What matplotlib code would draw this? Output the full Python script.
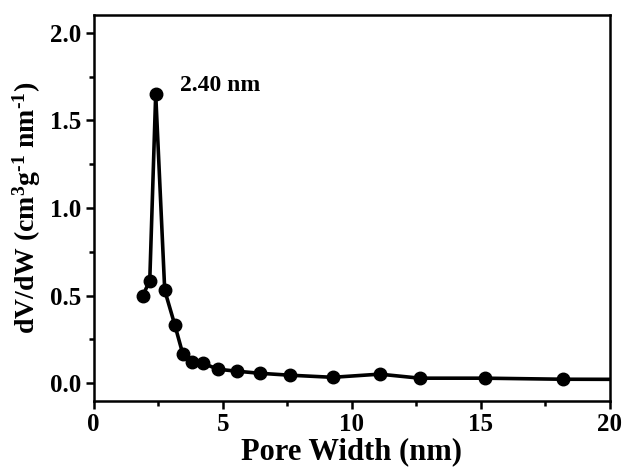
import matplotlib
matplotlib.use('Agg')
import matplotlib.pyplot as plt

# pore size distribution
pore_width = [1.90, 2.17, 2.40, 2.75, 3.14, 3.45, 3.80, 4.22, 4.81, 5.54,
              6.43, 7.60, 9.26, 11.08, 12.64, 15.15, 18.17, 21.7]
dv_dw = [0.50, 0.586, 1.65, 0.53, 0.333, 0.167, 0.12, 0.115, 0.08, 0.069,
         0.057, 0.046, 0.034, 0.052, 0.029, 0.029, 0.023, 0.022]
peak_label = '2.40 nm'

plt.rcParams['font.family'] = ['Liberation Serif', 'DejaVu Serif']
plt.rcParams['font.weight'] = 'bold'
plt.rcParams['mathtext.fontset'] = 'custom'
plt.rcParams['mathtext.rm'] = 'Liberation Serif:bold'
plt.rcParams['mathtext.default'] = 'rm'

fig = plt.figure(figsize=(6.25, 4.76), dpi=100)
ax = fig.add_axes([0.150, 0.158, 0.826, 0.810])

ax.plot(pore_width, dv_dw, color='black', lw=2.6, marker='o', ms=9,
        markevery=list(range(len(pore_width) - 1)))
ax.text(3.35, 1.70, peak_label, fontsize=17, fontweight='bold', va='center')

ax.set_xlim(0, 20)
ax.set_ylim(-0.1, 2.1)
ax.set_xticks([0, 5, 10, 15, 20])
ax.set_xticks([2.5, 7.5, 12.5, 17.5], minor=True)
ax.set_yticks([0.0, 0.5, 1.0, 1.5, 2.0])
ax.set_yticks([0.25, 0.75, 1.25, 1.75], minor=True)
ax.set_yticklabels(['0.0', '0.5', '1.0', '1.5', '2.0'])

for s in ax.spines.values():
    s.set_linewidth(1.8)
ax.tick_params(which='major', direction='out', length=6, width=1.8, labelsize=18, pad=3)
ax.tick_params(which='minor', direction='out', length=3.5, width=1.8)

ax.set_xlabel('Pore Width (nm)', fontsize=22, fontweight='bold', labelpad=1)
ax.set_ylabel('dV/dW (cm$^3$g$^{\u20101}$ nm$^{\u20101}$)', fontsize=20,
              fontweight='bold', labelpad=5)

plt.savefig('out.png', dpi=100)
plt.close()
